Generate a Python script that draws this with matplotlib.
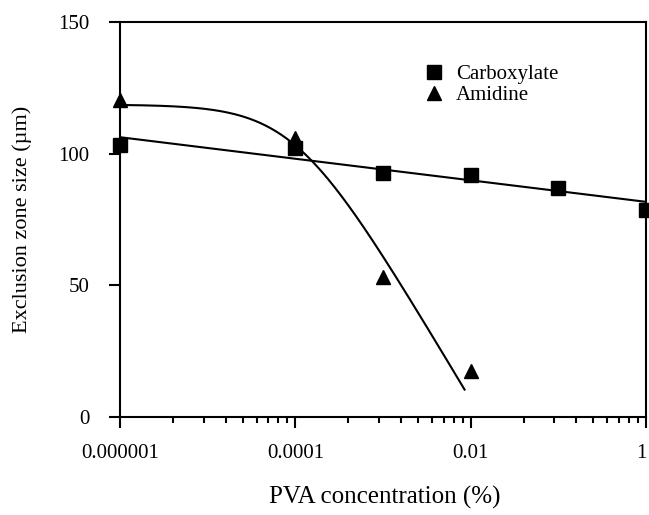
import numpy as np
import matplotlib
matplotlib.use("Agg")
import matplotlib.pyplot as plt
from matplotlib.ticker import FixedLocator, NullFormatter

plt.rcParams['font.family'] = ['Liberation Serif', 'DejaVu Serif']

# PVA concentration (%) and exclusion zone size (um)
carb_x = [1e-6, 1e-4, 1e-3, 1e-2, 1e-1, 1]
carb_y = [103.3, 102.2, 92.9, 91.8, 87.2, 78.6]

amid_x = [1e-6, 1e-4, 1e-3, 1e-2]
amid_y = [120.5, 106.0, 53.4, 17.7]

# hand drawn trend for amidine (smooth shoulder in log10 x)
amid_top = 118.7
amid_slope = 56.0      # um per decade at the steep end
amid_knee = -4.0       # log10 x of the knee
amid_width = 0.4
amid_end = 0.0085

major_ticks = [1e-6, 1e-4, 1e-2, 1]
major_labels = ["0.000001", "0.0001", "0.01", "1"]
y_ticks = [0, 50, 100, 150]

fig = plt.figure(figsize=(6.49, 5.15), dpi=100)
ax = fig.add_axes([0.185, 0.190, 0.8105, 0.767])

# carboxylate: straight line fit in log x
lx = np.log10(carb_x)
k, b = np.polyfit(lx, carb_y, 1)
xs = np.logspace(-6, 0, 50)
ax.plot(xs, k * np.log10(xs) + b, color='black', lw=1.5)

# amidine curve
xa = np.logspace(-6, np.log10(amid_end), 200)
t = (np.log10(xa) - amid_knee) / amid_width
ya = amid_top - amid_slope * amid_width * np.log1p(np.exp(t))
ax.plot(xa, ya, color='black', lw=1.5)

ax.plot(carb_x, carb_y, 's', color='black', ms=9.5, clip_on=False, label='Carboxylate')
ax.plot(amid_x, amid_y, '^', color='black', ms=9.5, clip_on=False, label='Amidine')

ax.set_xscale('log')
ax.set_xlim(1e-6, 1)
ax.set_ylim(0, 150)

ax.xaxis.set_major_locator(FixedLocator(major_ticks))
ax.set_xticklabels(major_labels)
ax.get_xticklabels()[-1].set_horizontalalignment('right')
minor = [m * n ** 2 for m in major_ticks[:-1] for n in range(2, 10)]
ax.xaxis.set_minor_locator(FixedLocator(minor))
ax.xaxis.set_minor_formatter(NullFormatter())
ax.set_yticks(y_ticks)

ax.tick_params(axis='both', which='major', direction='out', length=8, width=1.5,
               labelsize=15)
ax.tick_params(axis='x', which='minor', direction='out', length=4.5, width=1.5)
ax.tick_params(axis='y', which='major', pad=14)
ax.tick_params(axis='x', which='major', pad=11)

for s in ax.spines.values():
    s.set_linewidth(1.5)

ax.set_xlabel("PVA concentration (%)", fontsize=18)
ax.set_ylabel("Exclusion zone size (\u00b5m)", fontsize=16)
ax.xaxis.label.set_va('center')
ax.yaxis.label.set_va('center')
ax.xaxis.set_label_coords(0.503, -0.2025)
ax.yaxis.set_label_coords(-0.186, 0.5)

ax.legend(loc='upper left', bbox_to_anchor=(0.585, 0.892), frameon=False,
          fontsize=15, handlelength=0.6, handletextpad=0.75, labelspacing=0.05,
          borderpad=0, borderaxespad=0)

fig.savefig("out.png", dpi=100)
